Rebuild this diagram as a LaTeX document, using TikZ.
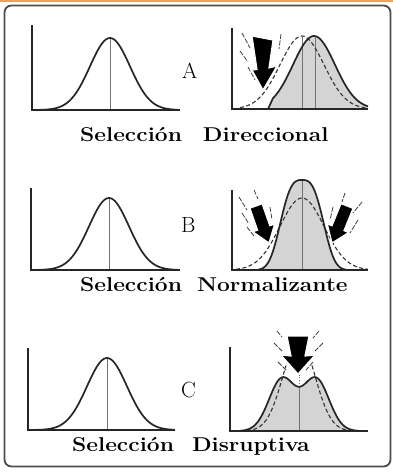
\documentclass[tikz,border=0pt]{standalone}
\usepackage{graphicx}
\definecolor{topbar}{RGB}{232,165,95}
\begin{document}
\begin{tikzpicture}[x=1pt,y=-1pt,
  axis/.style={line width=1.4pt, black!85},
  curve/.style={line width=1.7pt, black!85, line join=round},
  dashcurve/.style={line width=1.1pt, black!80, dash pattern=on 4pt off 2.5pt},
  shadefill/.style={fill=black!17},
  midline/.style={line width=0.9pt, black!55},
  motion/.style={line width=0.8pt, black!75, dash pattern=on 5pt off 1.5pt},
  blockarrow/.style={fill=black, draw=white, line width=1.2pt, line join=miter},
  letterlbl/.style={inner sep=0pt, anchor=base west, font=\fontsize{22}{22}\selectfont},
  titlelbl/.style={inner sep=0pt, anchor=base west, font=\fontsize{20}{20}\selectfont\bfseries}]

\useasboundingbox (0,0) rectangle (393,474);
\fill[topbar] (0,0) rectangle (393,1.6);
\draw[line width=1.8pt, black!70, rounded corners=7pt] (4.5,5.5) rectangle (390.5,466.5);

% ---------- Row A ----------
\draw[midline] (110,110) -- (110,38);
\draw[curve] plot[domain=38:178, samples=90] (\x,{110-72*exp(-((\x-110)/20)^2/2)});
\draw[axis] (32,25) -- (32,110) -- (180,110);

\fill[shadefill] (268,109) -- plot[domain=273:314, samples=40] (\x,{109-73*exp(-((\x-314)/21)^2/2)})
  -- plot[domain=314:368, samples=40] (\x,{109-73*exp(-((\x-314)/21)^2/2)}) -- (368,109) -- cycle;
\draw[midline] (302,109) -- (302,37);
\draw[midline] (315,109) -- (315,37);
\draw[dashcurve] plot[domain=240:366, samples=90] (\x,{109-73*exp(-((\x-302)/22)^2/2)});
\draw[curve] (268,109) -- plot[domain=273:314, samples=40] (\x,{109-73*exp(-((\x-314)/21)^2/2)})
  -- plot[domain=314:368, samples=40] (\x,{109-73*exp(-((\x-314)/21)^2/2)});
\draw[axis] (232,28) -- (232,109) -- (368,109);
\filldraw[blockarrow] (252,36) -- (273,40) -- (269,68) -- (277,66) -- (263,90) -- (252,70) -- (257,69.5) -- cycle;
\draw[motion] (242,33) -- (250,48);
\draw[motion] (240,51) -- (248,62);
\draw[motion] (248,67) -- (255,80);
\draw[motion] (281,34) -- (279,49);

\node[letterlbl] (lblA) at (182,78) {A};
\node[titlelbl] (titA) at (80,141.7) {\scalebox{1.14}[1]{Selección\hspace{18.4pt}Direccional}};

% ---------- Row B ----------
\draw[midline] (109,270) -- (109,198);
\draw[curve] plot[domain=38:178, samples=90] (\x,{270-72*exp(-((\x-109)/20)^2/2)});
\draw[axis] (31,188) -- (31,270) -- (180,270);

\fill[shadefill] plot[domain=258:346, samples=90] (\x,{270-90*exp(-(abs(\x-302)/25)^3)}) -- cycle;
\draw[midline] (302,270) -- (302,180);
\draw[dashcurve] plot[domain=236:368, samples=90] (\x,{270-72*exp(-((\x-302)/22)^2/2)});
\draw[curve] plot[domain=258:346, samples=90] (\x,{270-90*exp(-(abs(\x-302)/25)^3)});
\draw[axis] (232,190) -- (232,270) -- (368,270);
\filldraw[blockarrow] (249.9,208.2) -- (262.1,203.8) -- (269.8,225.7) -- (274.6,224.1) -- (269,243) -- (252.8,231.7) -- (257.6,230.1) -- cycle;
\filldraw[blockarrow] (341,203.6) -- (353,208.4) -- (344,230.6) -- (348.7,232.5) -- (332,243) -- (327.3,223.9) -- (332,225.8) -- cycle;
\draw[motion] (239,197) -- (247,210);
\draw[motion] (254,190) -- (258,199);
\draw[motion] (242,213) -- (249,224);
\draw[motion] (247,227) -- (254,236);
\draw[motion] (270,207) -- (272,220);
\draw[motion] (345,193) -- (342,202);
\draw[motion] (362,202) -- (353,213);
\draw[motion] (333,207) -- (330,220);
\draw[motion] (358,220) -- (350,233);

\node[letterlbl] (lblB) at (181,232) {B};
\node[titlelbl] (titB) at (80,291.7) {\scalebox{1.14}[1]{Selección\hspace{13.2pt}Normalizante}};

% ---------- Row C ----------
\draw[midline] (107,430) -- (107,358);
\draw[curve] plot[domain=35:174, samples=90] (\x,{430-72*exp(-((\x-107)/20)^2/2)});
\draw[axis] (28,348) -- (28,430) -- (175,430);

\fill[shadefill] plot[domain=240:358, samples=100] (\x,{431-52*(exp(-((\x-282)/13)^2/2)+exp(-((\x-316)/13)^2/2))}) -- cycle;
\draw[midline] (299,431) -- (299,387);
\draw[midline, dotted] (299,387) -- (299,374);
\draw[dashcurve] plot[domain=247:286, samples=40] (\x,{431-91*exp(-((\x-299)/16)^2/2)});
\draw[dashcurve] plot[domain=312:351, samples=40] (\x,{431-91*exp(-((\x-299)/16)^2/2)});
\draw[curve] plot[domain=240:358, samples=100] (\x,{431-52*(exp(-((\x-282)/13)^2/2)+exp(-((\x-316)/13)^2/2))});
\draw[axis] (230,347) -- (230,431) -- (368,431);
\filldraw[blockarrow] (287,336) -- (309,336) -- (305,356) -- (315,355) -- (298,374) -- (281,355) -- (291,356) -- cycle;
\draw[motion] (277,331) -- (282,337);
\draw[motion] (274,343) -- (282,351);
\draw[motion] (278,362) -- (287,371);
\draw[motion] (319,331) -- (313,338);
\draw[motion] (323,343) -- (315,351);
\draw[motion] (313,362) -- (306,370);

\node[letterlbl] (lblC) at (181,397) {C};
\node[titlelbl] (titC) at (72,451.7) {\scalebox{1.14}[1]{Selección\hspace{15.8pt}Disruptiva}};
\end{tikzpicture}
\end{document}
